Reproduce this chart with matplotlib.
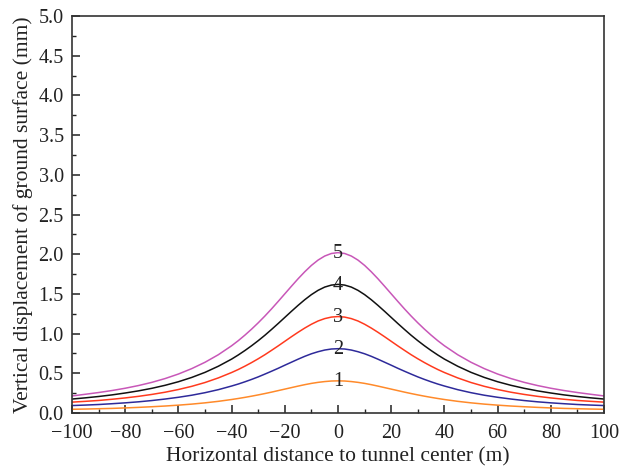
import numpy as np
import matplotlib
matplotlib.use('Agg')
import matplotlib.pyplot as plt
from matplotlib.ticker import MultipleLocator, FormatStrFormatter

plt.rcParams['font.family'] = ['Liberation Serif', 'DejaVu Serif']

# half profile (curves are symmetric about x = 0)
x_half = [0, 2.5, 5, 7.5, 10, 12.5, 15, 17.5, 20, 22.5, 25, 27.5, 30, 32.5, 35, 37.5,
          40, 45, 50, 55, 60, 65, 70, 75, 80, 85, 90, 95, 100]
s5 = [2.02, 2.009, 1.977, 1.926, 1.859, 1.779, 1.691, 1.597, 1.501, 1.405, 1.311, 1.221, 1.136, 1.056,
      0.981, 0.911, 0.847, 0.734, 0.639, 0.559, 0.491, 0.434, 0.386, 0.346, 0.312, 0.283, 0.258, 0.236, 0.215]
s4 = [1.62, 1.611, 1.586, 1.545, 1.491, 1.427, 1.356, 1.281, 1.204, 1.127, 1.052, 0.979, 0.911, 0.847,
      0.787, 0.731, 0.679, 0.589, 0.512, 0.448, 0.394, 0.349, 0.311, 0.279, 0.252, 0.228, 0.208, 0.191, 0.176]
s3 = [1.215, 1.208, 1.189, 1.159, 1.118, 1.070, 1.017, 0.961, 0.903, 0.845, 0.789, 0.734, 0.683, 0.635,
      0.590, 0.548, 0.510, 0.442, 0.384, 0.336, 0.296, 0.262, 0.234, 0.210, 0.190, 0.173, 0.158, 0.147, 0.137]
s2 = [0.81, 0.806, 0.793, 0.772, 0.746, 0.714, 0.678, 0.640, 0.602, 0.563, 0.526, 0.490, 0.455, 0.423,
      0.393, 0.365, 0.340, 0.294, 0.256, 0.224, 0.198, 0.176, 0.157, 0.141, 0.128, 0.117, 0.107, 0.100, 0.094]
s1 = [0.405, 0.403, 0.396, 0.386, 0.373, 0.357, 0.339, 0.320, 0.301, 0.282, 0.263, 0.245, 0.228, 0.212,
      0.197, 0.183, 0.170, 0.147, 0.128, 0.112, 0.099, 0.088, 0.079, 0.071, 0.064, 0.058, 0.054, 0.050, 0.047]

series = [s1, s2, s3, s4, s5]
labels = ['1', '2', '3', '4', '5']
colors = ['#ff8a2a', '#2e2a9a', '#ff3a1e', '#111111', '#c857b8']

def mirror(v, neg=False):
    v = np.array(v, dtype=float)
    left = -v[:0:-1] if neg else v[:0:-1]
    return np.concatenate([left, v])

x = mirror(x_half, neg=True)

fig = plt.figure(figsize=(6.21, 4.68), dpi=100)
ax = fig.add_axes([0.116, 0.1175, 0.8566, 0.8483])

for s, lab, c in zip(series, labels, colors):
    ax.plot(x, mirror(s), color=c, lw=1.1)
    ax.text(0, s[0] - 0.01, lab, ha='center', va='center', fontsize=14.5, color='#222222')

ax.set_xlim(-100, 100)
ax.set_ylim(0, 5)
ax.xaxis.set_major_locator(MultipleLocator(20))
ax.xaxis.set_minor_locator(MultipleLocator(10))
ax.yaxis.set_major_locator(MultipleLocator(0.5))
ax.yaxis.set_minor_locator(MultipleLocator(0.25))
ax.yaxis.set_major_formatter(FormatStrFormatter('%.1f'))
ax.tick_params(which='both', direction='in', top=False, right=False, colors='#222222', labelsize=14.5)
ax.tick_params(which='major', length=6, width=1.1)
ax.tick_params(which='minor', length=3, width=1.0)
ax.tick_params(axis='x', pad=8)
ax.tick_params(axis='y', pad=6)
for sp in ax.spines.values():
    sp.set_linewidth(1.2)
    sp.set_color('#333333')

ax.set_xlabel('Horizontal distance to tunnel center (m)', fontsize=15.5, color='#222222', labelpad=3)
ax.set_ylabel('Vertical displacement of ground surface (mm)', fontsize=15.5, color='#222222', labelpad=4)

fig.savefig('out.png', dpi=100)
